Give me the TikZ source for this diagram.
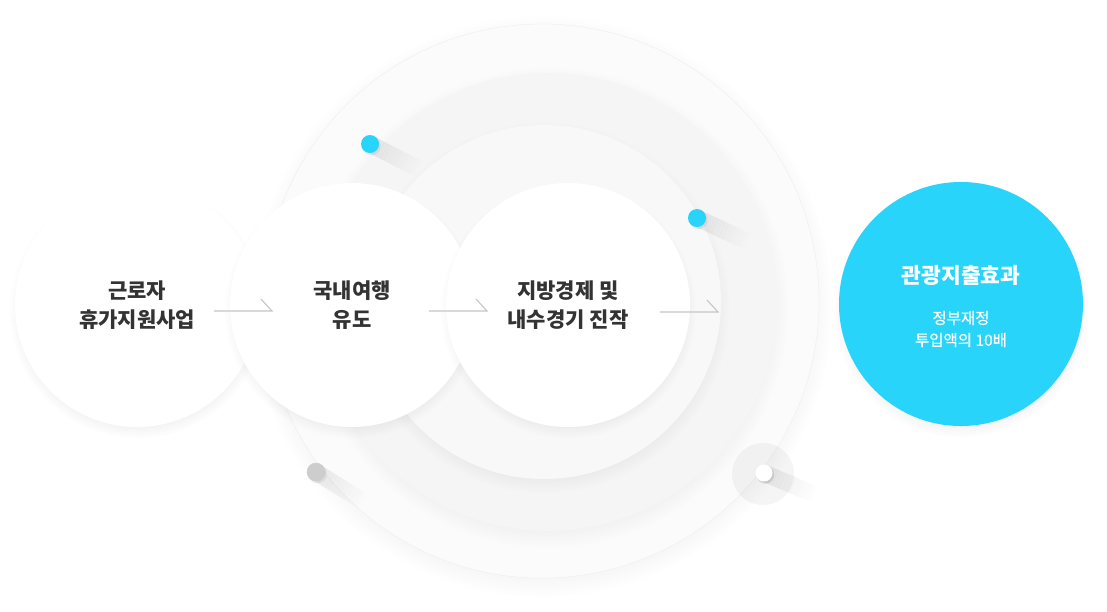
\documentclass[tikz,border=0pt]{standalone}
\usepackage{fontspec}
\setmainfont{Noto Sans CJK KR}
\newfontfamily\krmed[FakeBold=0.6]{Noto Sans CJK KR}
\usetikzlibrary{shadows,calc}
\definecolor{sky}{HTML}{28D4FA}
\definecolor{ink}{HTML}{333333}
\definecolor{arrowgray}{HTML}{C6C6C6}
\definecolor{ringA}{HTML}{FBFBFB}
\definecolor{ringB}{HTML}{F5F5F5}
\definecolor{ringC}{HTML}{F8F8F8}
\definecolor{dotgray}{HTML}{CDCDCD}
\begin{document}
\begin{tikzpicture}[x=1pt,y=-1pt,
  softshadow/.style={circular drop shadow={shadow xshift=0pt, shadow yshift=-5pt, shadow scale=1.05, opacity=0.07, fill=black}},
  ringshape/.style={circle, inner sep=0pt, softshadow},
  bubble/.style={circle, fill=white, minimum size=244pt, inner sep=0pt, softshadow,
    align=center, text=ink, font=\bfseries\fontsize{21}{29}\selectfont},
  arr/.style={draw=arrowgray, line width=1.1pt},
  dotshape/.style={circle, inner sep=0pt, minimum size=18pt},
]
\fill[white] (0,0) rectangle (1107,611);
\useasboundingbox (0,0) rectangle (1107,611);

% concentric rings
\node[ringshape, fill=ringA, draw=black!6, line width=0.5pt, minimum size=554pt] (ring1) at (542,301) {};
\node[ringshape, fill=ringB, minimum size=458pt] (ring2) at (548,302) {};
\node[ringshape, fill=ringC, minimum size=354pt] (ring3) at (544,302) {};

% dot trailing shadows
\foreach \cx/\cy/\ang in {370/144/-27, 697/218/-25, 316/472/-32, 764/473/-23}{
  \begin{scope}[shift={(\cx,\cy)}, rotate=\ang]
    \foreach \i in {0,...,13}{
      \pgfmathsetmacro\op{0.075*(1-\i/14)}
      \fill[black, opacity=\op] (\i*4,-8.5) rectangle ({\i*4+4.05},8.5);
    }
  \end{scope}
}

% white halo around white dot
\fill[black, opacity=0.04] (763,474) circle[radius=31pt];

% bubbles
\node[bubble] (c1) at (137,305) {근로자\\휴가지원사업};
\node[bubble] (c2) at (352,305) {국내여행\\유도};
\node[bubble] (c3) at (568,305) {지방경제 및\\내수경기 진작};
\node[circle, fill=sky, minimum size=244pt, inner sep=0pt, softshadow] (c4) at (961,304) {};
\node[text=white, font=\bfseries\fontsize{21.5}{24}\selectfont] (t4) at ($(c4)+(0,-29)$) {관광지출효과};
\node[text=white, align=center, font=\krmed\fontsize{15.5}{22}\selectfont] (s4) at ($(c4)+(0,25)$) {정부재정\\투입액의 10배};

% arrows
\coordinate (a1s) at ($(c1)+(77,6)$);
\coordinate (a1e) at ($(c1)+(135,6)$);
\coordinate (a2s) at ($(c2)+(77,6)$);
\coordinate (a2e) at ($(c2)+(135,6)$);
\coordinate (a3s) at ($(c3)+(92,7)$);
\coordinate (a3e) at ($(c3)+(150,7)$);
\draw[arr] (a1s) -- (a1e) -- ++(-11,-12);
\draw[arr] (a2s) -- (a2e) -- ++(-11,-12);
\draw[arr] (a3s) -- (a3e) -- ++(-11,-12);

% dots
\node[dotshape, fill=sky, circular drop shadow={shadow xshift=1pt, shadow yshift=-1.5pt, opacity=0.15}] (d1) at (370,144) {};
\node[dotshape, fill=sky, circular drop shadow={shadow xshift=1pt, shadow yshift=-1.5pt, opacity=0.15}] (d2) at (697,218) {};
\node[dotshape, fill=dotgray, draw=black!20, line width=0.4pt, circular drop shadow={shadow xshift=1pt, shadow yshift=-1.5pt, opacity=0.15}] (d3) at (316,472) {};
\node[dotshape, minimum size=17pt, fill=white, circular drop shadow={shadow xshift=1pt, shadow yshift=-1.5pt, opacity=0.25}] (d4) at (764,473) {};
\end{tikzpicture}
\end{document}
